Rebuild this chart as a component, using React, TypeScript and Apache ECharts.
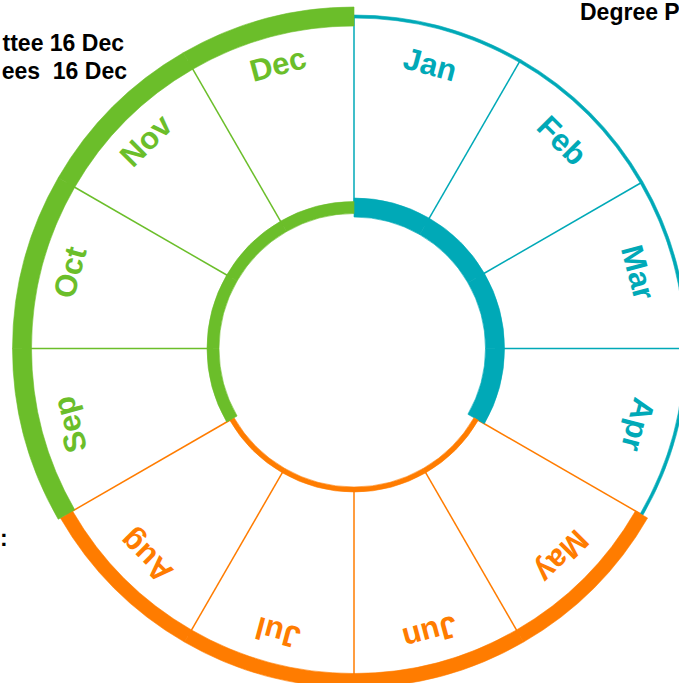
import React, { useEffect, useRef } from 'react';
import * as echarts from 'echarts';

// ---- data ----
const months = ['Jan', 'Feb', 'Mar', 'Apr', 'May', 'Jun', 'Jul', 'Aug', 'Sep', 'Oct', 'Nov', 'Dec'];
// term each month belongs to
const monthTerm = ['t1', 't1', 't1', 't1', 't2', 't2', 't2', 't2', 't3', 't3', 't3', 't3'];
// colour group of the spoke that opens each month (boundary before month i)
const spokeTerm = ['t1', 't1', 't1', 't1', 't2', 't2', 't2', 't2', 't2', 't3', 't3', 't3', 't1'];
const noteLines = ['ttee 16 Dec', 'ees  16 Dec'];
const headerText = 'Degree P';
const sideText = ':';

// ---- styles ----
const TERM_COLOR: Record<string, string> = { t1: '#00A9B7', t2: '#FF7C00', t3: '#6BBE2A' };
const OUTER_WIDTH: Record<string, number> = { t1: 3, t2: 14, t3: 19 };
const INNER_WIDTH: Record<string, number> = { t1: 19, t2: 5, t3: 12 };
const CX = 354;
const CY = 348.5;
const R_OUT = 332;
const R_IN = 141;
const LABEL_R = 294;
const FONT = 'Arial, "Liberation Sans", sans-serif';

function baseData(r: number, widths: Record<string, number>) {
  return months.map((m, i) => r - widths[monthTerm[i]] / 2);
}
function bandData(widths: Record<string, number>) {
  return months.map((m, i) => {
    const c = TERM_COLOR[monthTerm[i]];
    return { value: widths[monthTerm[i]], itemStyle: { color: c, borderColor: c, borderWidth: 0.6 } };
  });
}

export default function App() {
  const ref = useRef<HTMLDivElement>(null);
  useEffect(() => {
    const chart = echarts.init(ref.current!, null, { renderer: 'svg' });
    const hiddenAxis = {
      axisLine: { show: false },
      axisTick: { show: false },
      axisLabel: { show: false },
      splitLine: { show: false },
      splitArea: { show: false },
    };
    const barCommon = {
      type: 'bar',
      coordinateSystem: 'polar',
      polarIndex: 0,
      barCategoryGap: '0%',
      barGap: '-100%',
      silent: true,
    };
    const noteStyle = (text: string, align: string) => ({
      text,
      fill: '#000',
      font: `bold 23px ${FONT}`,
      align,
      verticalAlign: 'middle',
    });
    chart.setOption({
      animation: false,
      backgroundColor: '#ffffff',
      polar: [
        { center: [CX, CY], radius: 360 },
        { center: [CX, CY], radius: [R_IN, R_OUT] },
      ],
      angleAxis: [
        { polarIndex: 0, type: 'category', data: months, startAngle: 90, clockwise: true, ...hiddenAxis },
        {
          polarIndex: 1,
          type: 'category',
          data: months,
          startAngle: 90,
          clockwise: true,
          axisLine: { show: false },
          axisTick: { show: false },
          axisLabel: { show: false },
          splitArea: { show: false },
          splitLine: {
            show: true,
            lineStyle: { width: 1.5, color: spokeTerm.map((t) => TERM_COLOR[t]) },
          },
        },
      ],
      radiusAxis: [
        { polarIndex: 0, type: 'value', min: 0, max: 360, ...hiddenAxis },
        { polarIndex: 1, type: 'value', min: 0, max: 1, ...hiddenAxis },
      ],
      series: [
        { ...barCommon, name: 'outerBase', stack: 'outer', data: baseData(R_OUT, OUTER_WIDTH), itemStyle: { color: 'rgba(0,0,0,0)' } },
        { ...barCommon, name: 'outerBand', stack: 'outer', data: bandData(OUTER_WIDTH) },
        { ...barCommon, name: 'innerBase', stack: 'inner', data: baseData(R_IN, INNER_WIDTH), itemStyle: { color: 'rgba(0,0,0,0)' } },
        { ...barCommon, name: 'innerBand', stack: 'inner', data: bandData(INNER_WIDTH) },
        {
          type: 'custom',
          coordinateSystem: 'polar',
          polarIndex: 0,
          silent: true,
          data: months.map((m) => [LABEL_R, m]),
          encode: { radius: 0, angle: 1 },
          renderItem: (params: any, api: any) => {
            const p = api.coord([api.value(0), api.value(1)]);
            const cs = params.coordSys;
            const bearing = Math.atan2(p[0] - cs.cx, cs.cy - p[1]);
            const i = params.dataIndex;
            return {
              type: 'text',
              x: p[0],
              y: p[1],
              rotation: -bearing,
              style: {
                text: months[i],
                fill: TERM_COLOR[monthTerm[i]],
                font: `bold 31px ${FONT}`,
                align: 'center',
                verticalAlign: 'middle',
              },
            };
          },
        },
      ],
      graphic: [
        { type: 'text', x: 124, y: 43, silent: true, style: noteStyle(noteLines[0], 'right') },
        { type: 'text', x: 127, y: 71, silent: true, style: noteStyle(noteLines[1], 'right') },
        { type: 'text', x: 580, y: 12, silent: true, style: noteStyle(headerText, 'left') },
        { type: 'text', x: 0, y: 538, silent: true, style: noteStyle(sideText, 'left') },
      ],
    });
    return () => chart.dispose();
  }, []);
  return <div ref={ref} style={{ position: 'fixed', left: 0, top: 0, width: 679, height: 683 }} />;
}
